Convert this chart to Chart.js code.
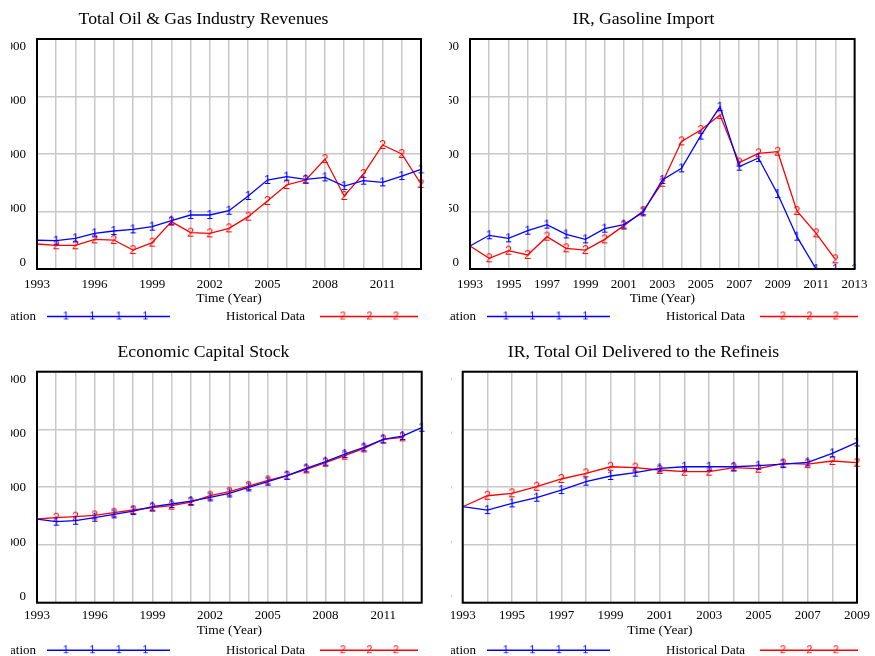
<!DOCTYPE html>
<html>
<head>
<meta charset="utf-8">
<script src="https://cdn.jsdelivr.net/npm/chart.js@4.4.1/dist/chart.umd.min.js"></script>
<style>
html, body { margin: 0; padding: 0; background: #fff; }
body { width: 875px; height: 656px; position: relative; overflow: hidden; }
.panel { position: absolute; overflow: hidden; }
.panel canvas { position: absolute; top: 0; }
</style>
</head>
<body>
<div class="panel" style="left:11px;top:0;width:429px;height:330px"><canvas id="revenueChart" width="473" height="330" style="left:-44px"></canvas></div>
<div class="panel" style="left:449px;top:0;width:426px;height:330px"><canvas id="gasolineChart" width="463" height="330" style="left:-37px"></canvas></div>
<div class="panel" style="left:11px;top:330px;width:429px;height:326px"><canvas id="capitalChart" width="473" height="326" style="left:-44px"></canvas></div>
<div class="panel" style="left:451px;top:330px;width:424px;height:326px"><canvas id="refineryChart" width="463" height="326" style="left:-39px"></canvas></div>
<script>
const runNames = ['Simulation', 'Historical Data'];

const years1993to2013 = ['1993', '1994', '1995', '1996', '1997', '1998', '1999', '2000', '2001', '2002', '2003',
    '2004', '2005', '2006', '2007', '2008', '2009', '2010', '2011', '2012', '2013'];
const years1993to2009 = ['1993', '1994', '1995', '1996', '1997', '1998', '1999', '2000', '2001', '2002', '2003',
    '2004', '2005', '2006', '2007', '2008', '2009'];

const revenueSim = [500, 492, 533, 620, 661, 690, 736, 840, 939, 939, 1014, 1270, 1548, 1606, 1559, 1594, 1443, 1536, 1507, 1617, 1733];
const revenueHist = [435, 412, 412, 516, 504, 330, 458, 823, 632, 620, 707, 910, 1183, 1461, 1548, 1913, 1270, 1652, 2157, 2000, 1478];

const gasolineSim = [20, 29.3, 26.7, 33.3, 38.6, 30.1, 25.8, 35.1, 38.6, 49.3, 77.4, 87.5, 116, 141, 89, 96.5, 65.2, 28.1, 0, 0, 0];
const gasolineHist = [20, 9.3, 15.9, 12.2, 28.1, 18, 16.5, 25.8, 37.7, 50.4, 75, 111, 120.9, 133.9, 92.5, 100.6, 102, 50.4, 31, 8.4, null];

const capitalSim = [1449, 1403, 1420, 1472, 1530, 1587, 1662, 1709, 1760, 1824, 1893, 1997, 2095, 2199, 2326, 2442, 2574, 2690, 2828, 2886, 3030];
const capitalHist = [1449, 1472, 1489, 1512, 1558, 1605, 1645, 1680, 1743, 1853, 1922, 2020, 2118, 2199, 2309, 2424, 2545, 2672, 2828, 2863, null];

const refinerySim = [83.1, 80.2, 86, 90.9, 97.5, 104.8, 109.7, 112.6, 116.3, 117.7, 117.7, 117.7, 118.6, 120, 121.5, 129.3, 138.8];
const refineryHist = [83.1, 92.6, 94.7, 100.4, 107.1, 112, 117.7, 116.9, 114.9, 113.4, 113.4, 116.9, 116, 120.6, 120, 122.7, 121.2];

const bigTicks = [0, 1000, 2000, 3000, 4000];
const smallTicks = [0, 50, 100, 150, 200];

const serif = '"Liberation Serif", "Times New Roman", serif';
const simColor = '#0000ff';
const histColor = '#ff0000';
const gridColor = '#c8c8c8';

Chart.defaults.font.family = serif;
Chart.defaults.font.size = 13;
Chart.defaults.color = '#000';

function makeMarker(ch, color, size) {
    const c = document.createElement('canvas');
    c.width = 11;
    c.height = 14;
    const g = c.getContext('2d');
    g.fillStyle = color;
    g.font = size + 'px "Liberation Sans", Arial, sans-serif';
    g.textAlign = 'center';
    g.textBaseline = 'middle';
    g.fillText(ch, 5.5, 7.5);
    return c;
}
const simMarker = makeMarker('1', simColor, 12.5);
const histMarker = makeMarker('2', histColor, 12.5);
const simKey = makeMarker('1', simColor, 10.5);
const histKey = makeMarker('2', histColor, 10.5);

function drawSample(ctx, x0, x1, y, color, marker, marks) {
    ctx.strokeStyle = color;
    ctx.lineWidth = 1.5;
    ctx.beginPath();
    ctx.moveTo(x0, y);
    ctx.lineTo(x1, y);
    ctx.stroke();
    marks.forEach(m => {
        ctx.drawImage(marker, m - marker.width / 2, y - marker.height / 2);
    });
}

// vensim style legend: name first, then the line sample
const runLegend = {
    id: 'runLegend',
    afterDraw(chart) {
        const ctx = chart.ctx;
        const c = chart.width / 2;
        const y = chart.chartArea.bottom + 47.5;
        ctx.save();
        ctx.font = '13px ' + serif;
        ctx.fillStyle = '#000';
        ctx.textBaseline = 'middle';
        ctx.textAlign = 'right';
        ctx.fillText(runNames[0], c - 167.5, y);
        ctx.textAlign = 'left';
        ctx.fillText(runNames[1], c + 22.5, y);
        drawSample(ctx, c - 156.5, c - 33.5, y, simColor, simKey, [c - 137.5, c - 111, c - 84.5, c - 58]);
        drawSample(ctx, c + 116.5, c + 214.5, y, histColor, histKey, [c + 139.5, c + 166, c + 192.5]);
        ctx.restore();
    }
};

const plotFrame = {
    id: 'plotFrame',
    afterDraw(chart) {
        const a = chart.chartArea;
        const ctx = chart.ctx;
        ctx.save();
        ctx.strokeStyle = '#000';
        ctx.lineWidth = 2;
        ctx.strokeRect(a.left, a.top, a.right - a.left, a.bottom - a.top);
        ctx.restore();
    }
};

function makeChart(id, title, labels, sim, hist, yTicks, labelStep, yWidth, side, top) {
    const el = document.getElementById(id);
    const yMin = yTicks[0];
    const yMax = yTicks[yTicks.length - 1];
    // vensim spreads the value labels a little inside the frame, so they sit on their own axis
    const upp = (yMax - yMin) / 216;
    return new Chart(el, {
        type: 'line',
        data: {
            labels: labels,
            datasets: [{
                label: runNames[0],
                data: sim,
                borderColor: simColor,
                borderWidth: 1.3,
                pointStyle: simMarker,
                pointRadius: ctx => ctx.dataIndex === 0 ? 0 : 4,
                tension: 0
            }, {
                label: runNames[1],
                data: hist,
                borderColor: histColor,
                borderWidth: 1.3,
                pointStyle: histMarker,
                pointRadius: ctx => ctx.dataIndex === 0 ? 0 : 4,
                tension: 0
            }]
        },
        options: {
            responsive: false,
            animation: false,
            layout: {
                padding: { top: 0, left: side, right: side, bottom: top ? 23 : 15.3 }
            },
            plugins: {
                legend: { display: false },
                tooltip: { enabled: false },
                title: {
                    display: true,
                    text: title,
                    color: '#000',
                    font: { size: 17.7, weight: 'normal', family: serif },
                    padding: top ? { top: 8.7, bottom: 9.06 } : { top: 12.1, bottom: 8.36 }
                }
            },
            scales: {
                x: {
                    type: 'category',
                    border: { display: false },
                    grid: { color: gridColor, lineWidth: 1.5, drawTicks: false, tickLength: 0 },
                    ticks: {
                        autoSkip: false,
                        maxRotation: 0,
                        padding: top ? 7.4 : 5,
                        callback: (v, i) => i % labelStep === 0 ? labels[i] : ''
                    },
                    title: {
                        display: true,
                        text: 'Time (Year)',
                        font: { size: 13.5 },
                        padding: { top: 0, bottom: top ? 0.6 : 2 }
                    },
                    afterFit: scale => { scale.height = 38; }
                },
                y: {
                    min: yMin,
                    max: yMax,
                    border: { display: false },
                    grid: { color: gridColor, lineWidth: 1.5, drawTicks: false, tickLength: 0 },
                    ticks: { display: false },
                    afterBuildTicks: scale => { scale.ticks = yTicks.map(v => ({ value: v })); },
                    afterFit: scale => { scale.width = 0; }
                },
                yLabels: {
                    position: 'left',
                    min: yMin - 6.3 * upp,
                    max: yMax + 8 * upp,
                    border: { display: false },
                    grid: { display: false, drawTicks: false, tickLength: 0 },
                    ticks: { padding: 11, callback: v => String(v) },
                    afterBuildTicks: scale => { scale.ticks = yTicks.map(v => ({ value: v })); },
                    afterFit: scale => { scale.width = yWidth; }
                }
            }
        },
        plugins: [plotFrame, runLegend]
    });
}

makeChart('revenueChart', 'Total Oil & Gas Industry Revenues', years1993to2013, revenueSim, revenueHist, bigTicks, 3, 51, 19, true);
makeChart('gasolineChart', 'IR, Gasoline Import', years1993to2013, gasolineSim, gasolineHist, smallTicks, 2, 44.7, 13.3, true);
makeChart('capitalChart', 'Economic Capital Stock', years1993to2013, capitalSim, capitalHist, bigTicks, 3, 51.7, 18.3, false);
makeChart('refineryChart', 'IR, Total Oil Delivered to the Refineis', years1993to2009, refinerySim, refineryHist, smallTicks, 2, 37.4, 13.3, false);
</script>
</body>
</html>
